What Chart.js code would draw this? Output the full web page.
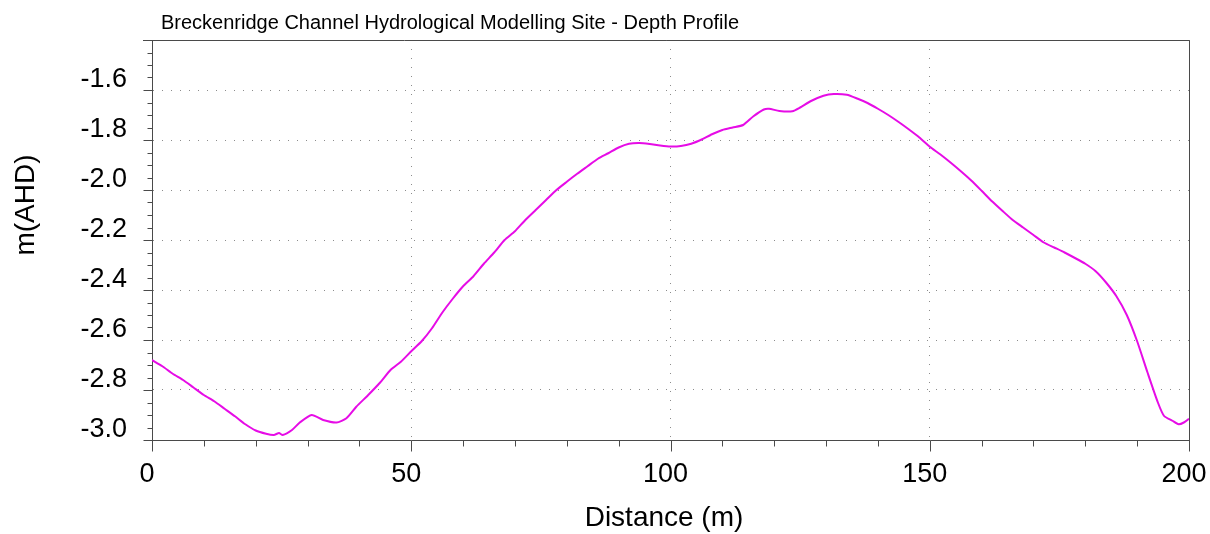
<!DOCTYPE html>
<html lang="en">
<head>
    <meta charset="UTF-8">
    <title>Depth Profile</title>
    <script src="https://cdn.jsdelivr.net/npm/chart.js"></script>
    <style>
        body { margin: 0; background: #fff; }
        #profile { display: block; }
    </style>
</head>
<body>
    <canvas id="profile" width="1210" height="534"></canvas>

    <script>
        // Chainage along the channel (m) and bed level (m AHD)
        const distance = [
            0, 2, 4, 6, 8, 10, 12, 14, 16, 18,
            20, 22, 23.5, 24.5, 25.2, 27, 28.5, 30.8, 33, 35.6,
            37.5, 39.4, 41.7, 44, 46, 48, 50, 52, 54, 56,
            58, 60, 62, 64, 66, 68, 70, 72, 74, 76,
            78, 80, 82, 84, 86, 88, 90, 92, 94, 96,
            98, 100, 102, 104, 106, 108, 110, 112, 114, 116,
            118, 119, 121, 123.5, 125, 127, 129.5, 131.5, 134, 136,
            138, 140, 142, 144, 146, 148, 150, 152, 154, 156,
            158, 160, 162, 164, 166, 168, 170, 172, 174, 176,
            178, 180, 182, 184, 186, 188, 190, 192, 194, 195.2,
            196.8, 198, 199, 200
        ];
        const depth = [
            -2.68, -2.705, -2.735, -2.76, -2.79, -2.82, -2.845, -2.875, -2.905, -2.937,
            -2.962, -2.975, -2.98, -2.972, -2.98, -2.96, -2.93, -2.90, -2.92, -2.93,
            -2.913, -2.867, -2.82, -2.77, -2.72, -2.687, -2.645, -2.605, -2.553, -2.49,
            -2.435, -2.385, -2.345, -2.295, -2.25, -2.20, -2.165, -2.12, -2.08, -2.04,
            -2.0, -1.967, -1.935, -1.905, -1.875, -1.853, -1.83, -1.815, -1.812, -1.816,
            -1.822, -1.826, -1.824, -1.815, -1.798, -1.777, -1.76, -1.75, -1.74, -1.705,
            -1.678, -1.675, -1.684, -1.685, -1.67, -1.645, -1.623, -1.616, -1.619, -1.634,
            -1.652, -1.675, -1.70, -1.728, -1.758, -1.79, -1.827, -1.857, -1.89, -1.925,
            -1.962, -2.003, -2.045, -2.083, -2.12, -2.15, -2.18, -2.21, -2.23, -2.25,
            -2.272, -2.295, -2.325, -2.37, -2.425, -2.50, -2.605, -2.73, -2.85, -2.904,
            -2.923, -2.937, -2.93, -2.915
        ];

        const xTickStep = 50;
        const xMinorStep = 10;
        const yTickStep = 0.2;
        const yMinorStep = 0.05;

        const chartTitle = 'Breckenridge Channel Hydrological Modelling Site - Depth Profile';
        const xTitle = 'Distance (m)';
        const yTitle = 'm(AHD)';

        const FONT = '"Liberation Sans", Arial, sans-serif';
        const AXIS = '#4a4a4a';

        // Minor/major tick marks, frame and titles
        const framePlugin = {
            id: 'frame',
            afterDraw(chart) {
                const ctx = chart.ctx;
                const a = chart.chartArea;
                const xs = chart.scales.x;
                const ys = chart.scales.y;
                const left = a.left + 0.5;
                const bottom = Math.round(a.bottom) + 0.5;

                ctx.save();
                ctx.strokeStyle = AXIS;
                ctx.lineWidth = 1;
                ctx.beginPath();
                // top and right border
                ctx.moveTo(a.left - 9, a.top + 0.5);
                ctx.lineTo(a.right + 0.5, a.top + 0.5);
                ctx.lineTo(a.right + 0.5, bottom);
                // x ticks
                for (let i = 0; i * xMinorStep <= xs.max + 1e-9; i++) {
                    const v = i * xMinorStep;
                    const px = Math.round(xs.getPixelForValue(v)) + 0.5;
                    const len = (v % xTickStep === 0) ? 11 : 6;
                    ctx.moveTo(px, bottom);
                    ctx.lineTo(px, bottom + len);
                }
                // y ticks
                const n = Math.round((ys.max - ys.min) / yMinorStep);
                for (let i = 0; i <= n; i++) {
                    const v = ys.min + i * yMinorStep;
                    const py = Math.round(ys.getPixelForValue(v)) + 0.5;
                    const len = (i % 4 === 0) ? 9 : 5;
                    ctx.moveTo(left - len, py);
                    ctx.lineTo(left, py);
                }
                ctx.stroke();

                ctx.fillStyle = '#000';
                ctx.textBaseline = 'alphabetic';
                ctx.textAlign = 'left';
                ctx.font = '20px ' + FONT;
                ctx.fillText(chartTitle, 161, 29);

                ctx.font = '28px ' + FONT;
                ctx.textAlign = 'center';
                ctx.fillText(xTitle, 664, 526);

                ctx.translate(34, 205);
                ctx.rotate(-Math.PI / 2);
                ctx.fillText(yTitle, 0, 0);
                ctx.restore();
            }
        };

        new Chart(document.getElementById('profile'), {
            type: 'line',
            data: {
                datasets: [{
                    data: distance.map((d, i) => ({ x: d, y: depth[i] })),
                    borderColor: '#e60ce6',
                    borderWidth: 2,
                    pointRadius: 0,
                    tension: 0.2,
                    fill: false
                }]
            },
            options: {
                responsive: false,
                animation: false,
                devicePixelRatio: 1,
                layout: { padding: { top: 40, right: 21, bottom: 0, left: 0 } },
                plugins: {
                    legend: { display: false },
                    tooltip: { enabled: false }
                },
                scales: {
                    x: {
                        type: 'linear',
                        min: 0,
                        max: 200,
                        ticks: {
                            stepSize: xTickStep,
                            padding: 18,
                            labelOffset: -5,
                            maxRotation: 0,
                            autoSkip: false,
                            color: '#000',
                            font: { family: FONT, size: 27 }
                        },
                        grid: { color: '#8c8c8c', drawTicks: false },
                        border: { color: AXIS, dash: [1, 8] },
                        afterFit(s) {
                            s.height = 94;
                            s.paddingLeft = 0;
                            s.paddingRight = 0;
                        }
                    },
                    y: {
                        type: 'linear',
                        min: -3.0,
                        max: -1.4,
                        ticks: {
                            stepSize: yTickStep,
                            padding: 25,
                            labelOffset: -10,
                            color: '#000',
                            font: { family: FONT, size: 27 },
                            callback: v => v > -1.5 ? '' : v.toFixed(1)
                        },
                        grid: { color: '#8c8c8c', drawTicks: false },
                        border: { color: AXIS, dash: [1, 8] },
                        afterFit(s) {
                            s.width = 152;
                            s.paddingTop = 0;
                            s.paddingBottom = 0;
                        }
                    }
                }
            },
            plugins: [framePlugin]
        });
    </script>
</body>
</html>
